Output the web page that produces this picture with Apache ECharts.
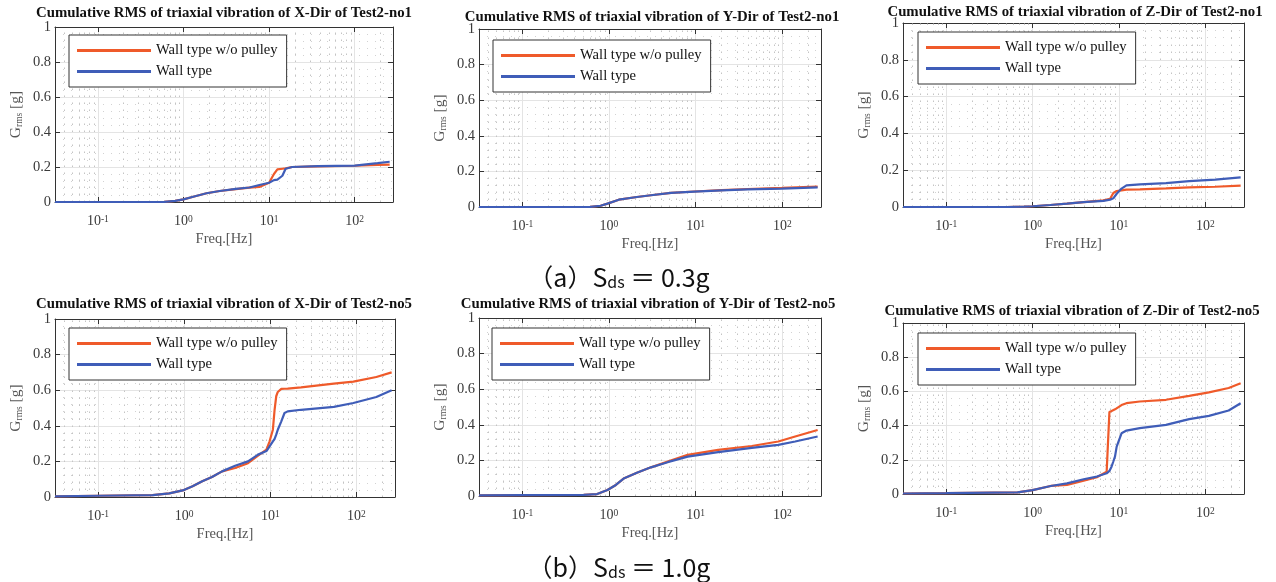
<!DOCTYPE html>
<html>
<head>
<meta charset="utf-8">
<script src="https://cdn.jsdelivr.net/npm/echarts@6/dist/echarts.min.js"></script>
<style>
  html, body { margin: 0; padding: 0; background: #fff; }
  #chart { width: 1276px; height: 582px; }
</style>
</head>
<body>
<div id="chart"></div>
<script>
// Series names shared by all six panels
const seriesNames = ['Wall type w/o pulley', 'Wall type'];

const panelTitles = [
  'Cumulative RMS of triaxial vibration of X-Dir of Test2-no1',
  'Cumulative RMS of triaxial vibration of Y-Dir of Test2-no1',
  'Cumulative RMS of triaxial vibration of Z-Dir of Test2-no1',
  'Cumulative RMS of triaxial vibration of X-Dir of Test2-no5',
  'Cumulative RMS of triaxial vibration of Y-Dir of Test2-no5',
  'Cumulative RMS of triaxial vibration of Z-Dir of Test2-no5'
];

// Test2-no1 (Sds = 0.3g), X direction
const freqX1     = [0.0316, 0.1, 0.3, 0.6, 0.8, 1.0, 1.3, 1.86, 2.65, 4.1, 5.9, 7.7, 10, 11.4, 12.5, 14.3, 15.6, 18.6, 37, 100, 185, 256];
const noPulleyX1 = [0, 0, 0, 0.001, 0.006, 0.015, 0.03, 0.05, 0.063, 0.074, 0.082, 0.086, 0.11, 0.16, 0.186, 0.19, 0.192, 0.2, 0.204, 0.207, 0.212, 0.214];
const wallX1     = [0, 0, 0, 0.001, 0.006, 0.015, 0.03, 0.05, 0.063, 0.075, 0.083, 0.097, 0.11, 0.125, 0.128, 0.15, 0.19, 0.2, 0.205, 0.208, 0.222, 0.23];

// Test2-no1, Y direction
const freqY1     = [0.0316, 0.1, 0.3, 0.61, 0.8, 0.96, 1.3, 2.1, 3.05, 5.2, 9.7, 20, 40, 99, 256];
const noPulleyY1 = [0, 0, 0, 0.001, 0.007, 0.019, 0.041, 0.056, 0.066, 0.079, 0.087, 0.095, 0.101, 0.107, 0.114];
const wallY1     = [0, 0, 0, 0.001, 0.007, 0.019, 0.041, 0.056, 0.066, 0.079, 0.086, 0.093, 0.099, 0.103, 0.110];

// Test2-no1, Z direction
const freqZ1     = [0.0316, 0.1, 0.5, 0.8, 1.0, 1.6, 2.5, 3.9, 6.6, 7.9, 8.6, 9.4, 10.7, 12.2, 17.5, 35, 65, 130, 256];
const noPulleyZ1 = [0, 0, 0, 0.002, 0.004, 0.011, 0.018, 0.027, 0.036, 0.045, 0.076, 0.087, 0.09, 0.094, 0.096, 0.101, 0.107, 0.11, 0.116];
const wallZ1     = [0, 0, 0, 0.002, 0.004, 0.011, 0.018, 0.027, 0.033, 0.04, 0.047, 0.072, 0.1, 0.118, 0.123, 0.13, 0.141, 0.149, 0.161];

// Test2-no5 (Sds = 1.0g), X direction
const freqX5     = [0.0316, 0.1, 0.43, 0.67, 0.96, 1.25, 1.62, 2.1, 2.75, 3.9, 5.5, 7.2, 9.0, 9.8, 10.7, 11.2, 11.7, 12.2, 13.4, 14.6, 15.9, 22.7, 54.6, 92, 170, 256];
const noPulleyX5 = [0.004, 0.007, 0.011, 0.02, 0.037, 0.06, 0.088, 0.112, 0.144, 0.163, 0.19, 0.232, 0.266, 0.313, 0.378, 0.49, 0.566, 0.59, 0.607, 0.608, 0.609, 0.616, 0.637, 0.648, 0.674, 0.70];
const wallX5     = [0.004, 0.007, 0.011, 0.02, 0.037, 0.06, 0.088, 0.112, 0.144, 0.176, 0.2, 0.238, 0.258, 0.285, 0.313, 0.326, 0.35, 0.378, 0.425, 0.472, 0.481, 0.49, 0.506, 0.528, 0.562, 0.60];

// Test2-no5, Y direction
const freqY5     = [0.0316, 0.1, 0.51, 0.73, 0.96, 1.2, 1.5, 2.1, 3.05, 4.76, 8.1, 18.2, 44.5, 90, 141, 256];
const noPulleyY5 = [0.004, 0.005, 0.006, 0.011, 0.034, 0.062, 0.1, 0.131, 0.161, 0.193, 0.231, 0.259, 0.281, 0.306, 0.334, 0.371];
const wallY5     = [0.004, 0.005, 0.006, 0.011, 0.034, 0.062, 0.1, 0.131, 0.161, 0.19, 0.221, 0.246, 0.27, 0.287, 0.306, 0.334];

// Test2-no5, Z direction
const freqZ5     = [0.0316, 0.1, 0.67, 1.0, 1.62, 2.5, 3.9, 5.55, 7.2, 7.55, 7.75, 8.2, 8.6, 9.0, 9.4, 10.7, 12.2, 17.4, 35, 65, 110, 186, 256];
const noPulleyZ5 = [0.003, 0.005, 0.01, 0.023, 0.047, 0.053, 0.078, 0.098, 0.131, 0.14, 0.48, 0.485, 0.488, 0.495, 0.502, 0.52, 0.531, 0.541, 0.551, 0.574, 0.594, 0.62, 0.648];
const wallZ5     = [0.003, 0.005, 0.01, 0.023, 0.047, 0.062, 0.086, 0.102, 0.121, 0.13, 0.135, 0.16, 0.19, 0.22, 0.277, 0.355, 0.371, 0.385, 0.404, 0.4375, 0.457, 0.488, 0.531];

// Dotted minor grid positions on the log frequency axis
const xMinorGrid = [0.04, 0.05, 0.06, 0.07, 0.08, 0.09,
                    0.2, 0.3, 0.4, 0.5, 0.6, 0.7, 0.8, 0.9,
                    2, 3, 4, 5, 6, 7, 8, 9,
                    20, 30, 40, 50, 60, 70, 80, 90,
                    200];

const captionTexts = ['（a）S{sub|ds} ＝ 0.3g', '（b）S{sub|ds} ＝ 1.0g'];

const panels = [
  { freq: freqX1, a: noPulleyX1, b: wallX1 },
  { freq: freqY1, a: noPulleyY1, b: wallY1 },
  { freq: freqZ1, a: noPulleyZ1, b: wallZ1 },
  { freq: freqX5, a: noPulleyX5, b: wallX5 },
  { freq: freqY5, a: noPulleyY5, b: wallY5 },
  { freq: freqZ5, a: noPulleyZ5, b: wallZ5 }
];

// Placement of each panel: plot box [left, top, width, height], legend corner, title centre/top
const layout = [
  { grid: [55, 27, 338, 175],  legend: [69, 35],   title: [224, 6] },
  { grid: [479, 29, 342, 178], legend: [493, 40],  title: [652, 10] },
  { grid: [903, 23, 341, 184], legend: [918, 32],  title: [1075, 5] },
  { grid: [55, 319, 340, 178], legend: [69, 328],  title: [224, 297] },
  { grid: [479, 318, 342, 178], legend: [492, 328], title: [648, 297] },
  { grid: [903, 323, 341, 171], legend: [918, 333], title: [1072, 304] }
];
const captionPos = [[619, 265], [619, 555]];

const FONT = 'Liberation Serif';
const ORANGE = '#EF5A2A';
const BLUE = '#3F5DB8';
const AXIS = '#333333';
const X_MIN = 0.0316, X_MAX = 280;

function zip(xs, ys) { return xs.map((x, k) => [x, ys[k]]); }

function decadeLabel(v) {
  const e = Math.log10(v);
  const r = Math.round(e);
  return Math.abs(e - r) < 1e-6 ? '10{sup|' + r + '}' : '';
}

const option = {
  backgroundColor: '#ffffff',
  animation: false,
  title: [], grid: [], xAxis: [], yAxis: [], legend: [], series: []
};

panels.forEach((p, i) => {
  const L = layout[i];
  option.grid.push({
    left: L.grid[0], top: L.grid[1], width: L.grid[2], height: L.grid[3],
    containLabel: false, outerBoundsMode: 'none'
  });

  option.title.push({
    text: panelTitles[i], left: L.title[0], top: L.title[1], textAlign: 'center', padding: 0,
    textStyle: { fontFamily: FONT, fontWeight: 'bold', fontSize: 14.8, color: '#111' }
  });

  // bottom frequency axis
  option.xAxis.push({
    type: 'log', logBase: 10, gridIndex: i, min: X_MIN, max: X_MAX, position: 'bottom',
    axisLine: { show: true, onZero: false, lineStyle: { color: AXIS, width: 1 } },
    axisTick: { show: true, inside: true, length: 5, lineStyle: { color: AXIS } },
    axisLabel: {
      margin: 12, color: '#3a3a3a', fontFamily: FONT, fontSize: 14, formatter: decadeLabel,
      rich: { sup: { fontFamily: FONT, fontSize: 9.5, color: '#3a3a3a', verticalAlign: 'top' } }
    },
    splitLine: { show: true, lineStyle: { color: '#e4e4e4', width: 1 } },
    name: 'Freq.[Hz]', nameLocation: 'middle', nameGap: 30,
    nameTextStyle: { fontFamily: FONT, fontSize: 14.5, color: '#555' }
  });
  // top frame edge
  option.xAxis.push({
    type: 'log', logBase: 10, gridIndex: i, min: X_MIN, max: X_MAX, position: 'top',
    axisLine: { show: true, onZero: false, lineStyle: { color: AXIS, width: 1 } },
    axisTick: { show: true, inside: true, length: 5, lineStyle: { color: AXIS } },
    axisLabel: { show: false }, splitLine: { show: false }
  });

  // left Grms axis
  option.yAxis.push({
    type: 'value', gridIndex: i, min: 0, max: 1, interval: 0.2, position: 'left',
    axisLine: { show: true, onZero: false, lineStyle: { color: AXIS, width: 1 } },
    axisTick: { show: true, inside: true, length: 5, lineStyle: { color: AXIS } },
    axisLabel: { margin: 4, color: '#3a3a3a', fontFamily: FONT, fontSize: 14.5 },
    splitLine: { show: true, lineStyle: { color: '#e4e4e4', width: 1 } },
    minorTick: { show: false, splitNumber: 5 },
    minorSplitLine: { show: true, lineStyle: { color: '#d2d2d2', width: 1, type: [1, 7] } },
    name: 'G{sub|rms} [g]', nameLocation: 'middle', nameGap: 31,
    nameTextStyle: {
      fontFamily: FONT, fontSize: 15.5, color: '#555',
      rich: { sub: { fontFamily: FONT, fontSize: 9.5, color: '#555', verticalAlign: 'bottom' } }
    }
  });
  // right frame edge
  option.yAxis.push({
    type: 'value', gridIndex: i, min: 0, max: 1, interval: 0.2, position: 'right',
    axisLine: { show: true, onZero: false, lineStyle: { color: AXIS, width: 1 } },
    axisTick: { show: true, inside: true, length: 5, lineStyle: { color: AXIS } },
    axisLabel: { show: false }, splitLine: { show: false }
  });

  option.legend.push({
    orient: 'vertical', left: L.legend[0], top: L.legend[1], data: seriesNames,
    icon: 'rect', itemWidth: 74, itemHeight: 3, itemGap: 6,
    padding: [8, 9, 8, 8], backgroundColor: '#ffffff', borderColor: AXIS, borderWidth: 1,
    selectedMode: false, z: 10,
    textStyle: { fontFamily: FONT, fontSize: 14.6, color: '#111' }
  });

  option.series.push({
    name: seriesNames[0], type: 'line', xAxisIndex: 2 * i, yAxisIndex: 2 * i,
    data: zip(p.freq, p.a), symbol: 'none', showSymbol: false, z: 3,
    color: ORANGE, lineStyle: { width: 2.2, color: ORANGE }, emphasis: { disabled: true },
    markLine: {
      silent: true, symbol: ['none', 'none'], label: { show: false }, z: 1, animation: false,
      lineStyle: { color: '#c4c4c4', width: 1, type: [1.5, 5.5] },
      emphasis: { disabled: true },
      data: xMinorGrid.map(v => ({ xAxis: v }))
    }
  });
  option.series.push({
    name: seriesNames[1], type: 'line', xAxisIndex: 2 * i, yAxisIndex: 2 * i,
    data: zip(p.freq, p.b), symbol: 'none', showSymbol: false, z: 4,
    color: BLUE, lineStyle: { width: 2.2, color: BLUE }, emphasis: { disabled: true }
  });
});

captionTexts.forEach((t, k) => {
  option.title.push({
    text: t, left: captionPos[k][0], top: captionPos[k][1], textAlign: 'center', padding: 0,
    textStyle: {
      fontFamily: 'Noto Sans CJK KR', fontWeight: 'normal', fontSize: 25, color: '#111',
      rich: { sub: { fontFamily: 'Noto Sans CJK KR', fontSize: 16, color: '#111', verticalAlign: 'bottom' } }
    }
  });
});

const chart = echarts.init(document.getElementById('chart'), null, { renderer: 'canvas' });
chart.setOption(option);
</script>
</body>
</html>
